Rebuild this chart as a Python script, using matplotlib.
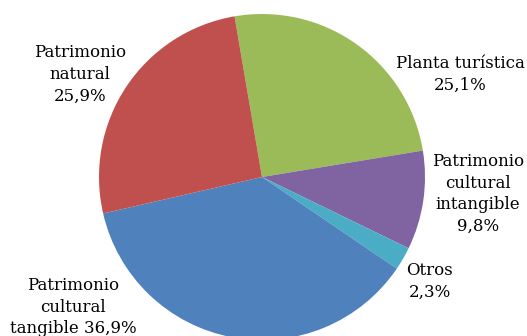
import matplotlib
matplotlib.use("Agg")
import matplotlib.pyplot as plt

# Datos
categorias = ["Planta turística", "Patrimonio\ncultural\nintangible", "Otros",
              "Patrimonio\ncultural\ntangible", "Patrimonio\nnatural"]
porcentajes = [25.1, 9.8, 2.3, 36.9, 25.9]
colores = ["#9BBB59", "#8064A2", "#4BACC6", "#4F81BD", "#C0504D"]

# posiciones de las etiquetas (en unidades del radio) y separador antes del %
pos_etiquetas = [(1.215, 0.63), (1.325, -0.105), (1.03, -0.64), (-1.16, -0.80), (-1.117, 0.63)]
separadores = ["\n", "\n", "\n", " ", "\n"]

fig = plt.figure(figsize=(5.27, 3.36), dpi=100)
ax = fig.add_axes([0, 0, 1, 1])

ax.pie(porcentajes, colors=colores, startangle=99.7, counterclock=False,
       radius=1.0, wedgeprops=dict(linewidth=0))

for cat, pct, sep, (x, y) in zip(categorias, porcentajes, separadores, pos_etiquetas):
    texto = cat + sep + f"{pct:.1f}%".replace(".", ",")
    ax.text(x, y, texto, ha="center", va="center", fontsize=12,
            family="DejaVu Serif", linespacing=1.35)

ax.set_xlim(-262 / 163, 265 / 163)
ax.set_ylim(-159 / 163, 177 / 163)
ax.set_aspect("auto")
ax.axis("off")

fig.savefig("out.png", dpi=100)
